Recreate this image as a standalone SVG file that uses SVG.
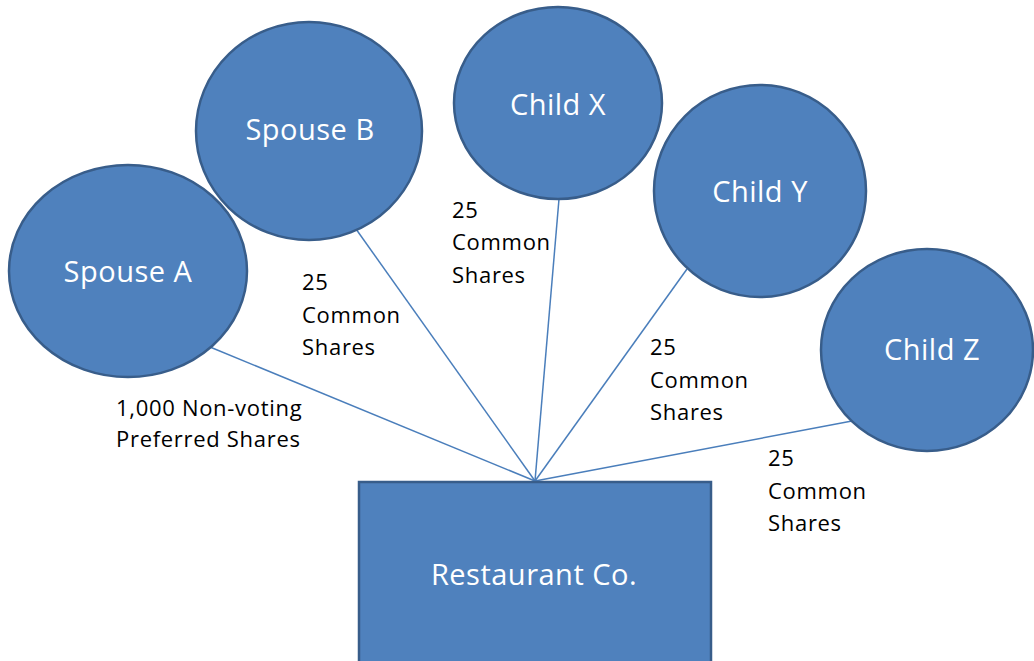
<svg xmlns="http://www.w3.org/2000/svg" width="1034" height="661" viewBox="0 0 1034 661">
  <style>
    .shape { fill: #4f81bd; stroke: #385d8a; stroke-width: 2.5; }
    .name { fill: #ffffff; font-family: "Open Sans", "Noto Sans", sans-serif; font-size: 29px; letter-spacing: 0.5px; text-anchor: middle; }
    .link { stroke: #4a7ebb; stroke-width: 1.5; fill: none; }
    .share { fill: #000000; font-family: "Open Sans", "Noto Sans", sans-serif; font-size: 22px; letter-spacing: 0.7px; }
  </style>
  <rect width="1034" height="661" fill="#ffffff"/>

  <!-- ownership lines into the company -->
  <g id="connectors">
    <line class="link" x1="210" y1="347" x2="535" y2="481"/>
    <line class="link" x1="356" y1="229" x2="535" y2="481"/>
    <line class="link" x1="559" y1="199" x2="535" y2="481"/>
    <line class="link" x1="687" y1="269" x2="535" y2="481"/>
    <line class="link" x1="852" y1="421" x2="535" y2="481"/>
  </g>

  <g id="spouse-a">
    <ellipse class="shape" cx="128" cy="271" rx="119" ry="106"/>
    <text class="name" x="128" y="282">Spouse A</text>
  </g>
  <g id="spouse-b">
    <ellipse class="shape" cx="309" cy="131" rx="113" ry="109"/>
    <text class="name" x="310" y="140">Spouse B</text>
  </g>
  <g id="child-x">
    <ellipse class="shape" cx="558" cy="103" rx="104" ry="96"/>
    <text class="name" x="558" y="115">Child X</text>
  </g>
  <g id="child-y">
    <ellipse class="shape" cx="760" cy="191" rx="106" ry="106"/>
    <text class="name" x="760" y="202">Child Y</text>
  </g>
  <g id="child-z">
    <ellipse class="shape" cx="927" cy="350" rx="106" ry="101"/>
    <text class="name" x="932" y="360">Child Z</text>
  </g>
  <g id="restaurant-co">
    <rect class="shape" x="359" y="482" width="352" height="190"/>
    <text class="name" x="534" y="585">Restaurant Co.</text>
  </g>

  <!-- share labels -->
  <g id="label-spouse-a">
    <text class="share" x="116" y="416">1,000 Non-voting</text>
    <text class="share" x="116" y="447">Preferred Shares</text>
  </g>
  <g id="label-spouse-b">
    <text class="share" x="302" y="290">25</text>
    <text class="share" x="302" y="323">Common</text>
    <text class="share" x="302" y="355">Shares</text>
  </g>
  <g id="label-child-x">
    <text class="share" x="452" y="218">25</text>
    <text class="share" x="452" y="250">Common</text>
    <text class="share" x="452" y="283">Shares</text>
  </g>
  <g id="label-child-y">
    <text class="share" x="650" y="355">25</text>
    <text class="share" x="650" y="388">Common</text>
    <text class="share" x="650" y="420">Shares</text>
  </g>
  <g id="label-child-z">
    <text class="share" x="768" y="466">25</text>
    <text class="share" x="768" y="499">Common</text>
    <text class="share" x="768" y="531">Shares</text>
  </g>
</svg>
